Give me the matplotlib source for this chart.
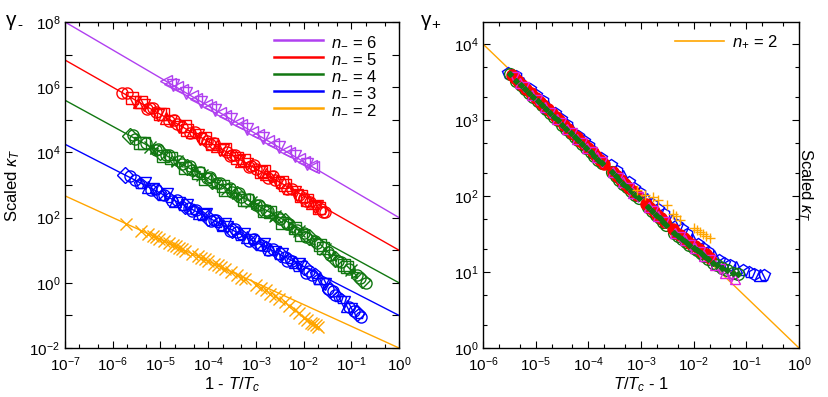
#!/usr/bin/env python3

import matplotlib
matplotlib.use("Agg")
import matplotlib.pyplot as plt
import numpy as np
from matplotlib.ticker import LogLocator, FuncFormatter, NullLocator, NullFormatter

plt.rcParams['font.family'] = ['Liberation Sans', 'DejaVu Sans']
plt.rcParams['mathtext.fontset'] = 'custom'
plt.rcParams['mathtext.rm'] = 'Liberation Sans'
plt.rcParams['mathtext.it'] = 'Liberation Sans:italic'
plt.rcParams['mathtext.bf'] = 'Liberation Sans:bold'

# --- left panel: fitted power laws  y = amp * x^(-expo) ---
n_minus = [6, 5, 4, 3, 2]
amp_minus = [1e2, 1e1, 1e0, 1e-1, 1e-2]
expo_minus = [6 / 7, 5 / 6, 4 / 5, 3 / 4, 2 / 3]
col_minus = ['#b040f0', '#ff0000', '#117711', '#0000ff', '#ffa500']
line_x_left = [1e-7, 1e0]

# left panel data
p6_x = [1.3e-5, 1.6e-5, 1.8e-5, 2.2e-5, 2.8e-5, 3.5e-5, 4.5e-5, 5.5e-5, 7e-5, 9e-5,
        1.1e-4, 1.4e-4, 1.8e-4, 2.3e-4, 3e-4, 4e-4, 5e-4, 6.5e-4, 8.5e-4, 1.1e-3,
        1.4e-3, 1.8e-3, 2.3e-3, 3e-3, 4e-3, 5e-3, 6.5e-3, 8e-3, 1e-2, 1.2e-2, 1.4e-2, 1.6e-2]
p6_y = [1.54e6, 1.29e6, 1.16e6, 9.8e5, 8.0e5, 6.6e5, 5.3e5, 4.5e5, 3.6e5, 2.9e5,
        2.5e5, 2.0e5, 1.6e5, 1.31e5, 1.05e5, 8.2e4, 6.7e4, 5.4e4, 4.3e4, 3.4e4,
        2.8e4, 2.25e4, 1.82e4, 1.45e4, 1.13e4, 9.4e3, 7.5e3, 6.3e3, 5.2e3, 4.4e3, 3.9e3, 3.5e3]

p5_x = [1.6e-6, 2.5e-6, 3.5e-6, 4.5e-6, 6e-6, 8e-6, 1e-5, 1.3e-5, 1.7e-5, 2.2e-5,
        2.8e-5, 3.6e-5, 4.6e-5, 6e-5, 7.5e-5, 9.5e-5, 1.2e-4, 1.5e-4, 2e-4, 2.5e-4,
        3.2e-4, 4e-4, 5e-4, 6.5e-4, 8e-4, 1e-3, 1.3e-3, 1.6e-3, 2e-3, 2.5e-3,
        3.2e-3, 4e-3, 5e-3, 6.5e-3, 8e-3, 1e-2, 1.2e-2, 1.5e-2, 1.9e-2, 2.3e-2, 2.8e-2]
p5_y = [6.7e5, 4.6e5, 3.5e5, 2.85e5, 2.24e5, 1.76e5, 1.46e5, 1.17e5, 9.4e4, 7.6e4,
        6.2e4, 5.0e4, 4.1e4, 3.3e4, 2.73e4, 2.24e4, 1.85e4, 1.53e4, 1.2e4, 1.0e4,
        8.1e3, 6.8e3, 5.6e3, 4.5e3, 3.8e3, 3.2e3, 2.5e3, 2.1e3, 1.77e3, 1.47e3,
        1.2e3, 9.9e2, 7.9e2, 6.2e2, 5.1e2, 4.1e2, 3.4e2, 2.8e2, 2.2e2, 1.8e2, 1.5e2]
p5b_x = [2e-6, 3e-6, 4e-6, 5.2e-6, 7e-6, 9e-6, 1.15e-5, 1.5e-5, 1.95e-5, 2.5e-5,
         3.2e-5, 4.1e-5, 5.3e-5, 6.7e-5, 8.5e-5, 1.07e-4, 1.35e-4, 1.75e-4, 2.25e-4, 2.85e-4,
         3.6e-4, 4.5e-4, 5.7e-4, 7.2e-4, 9e-4, 1.15e-3, 1.45e-3, 1.8e-3, 2.25e-3, 2.85e-3,
         3.6e-3, 4.5e-3, 5.7e-3, 7.2e-3, 9e-3, 1.1e-2, 1.35e-2, 1.7e-2, 2.1e-2, 2.5e-2]
p5b_y = [6.5e5, 3.5e5, 3.6e5, 2.2e5, 2.27e5, 1.39e5, 1.5e5, 9.1e4, 9.7e4, 5.9e4,
         6.4e4, 3.9e4, 4.2e4, 2.6e4, 2.8e4, 1.77e4, 1.93e4, 1.18e4, 1.26e4, 7.8e3,
         8.5e3, 5.4e3, 5.8e3, 3.6e3, 4.0e3, 2.45e3, 2.67e3, 1.69e3, 1.85e3, 1.15e3,
         1.2e3, 7.7e2, 7.4e2, 4.9e2, 4.6e2, 3.2e2, 3.1e2, 2.1e2, 2.0e2, 1.5e2]

p4_x = [2.3e-6, 3e-6, 4.5e-6, 6e-6, 8e-6, 1e-5, 1.3e-5, 1.7e-5, 2.2e-5, 2.8e-5,
        3.6e-5, 4.6e-5, 6e-5, 7.5e-5, 9.5e-5, 1.2e-4, 1.5e-4, 2e-4, 2.5e-4, 3.2e-4,
        4e-4, 5e-4, 6.5e-4, 8e-4, 1e-3, 1.3e-3, 1.6e-3, 2e-3, 2.5e-3, 3.2e-3,
        4e-3, 5e-3, 6.5e-3, 8e-3, 1e-2, 1.3e-2, 1.7e-2, 2.2e-2, 2.8e-2, 3.6e-2,
        4.6e-2, 6e-2, 8e-2, 0.1, 0.13, 0.17, 0.2]
p4_y = [3.2e4, 2.6e4, 1.9e4, 1.5e4, 1.2e4, 1.0e4, 8.1e3, 6.5e3, 5.3e3, 4.4e3,
        3.6e3, 2.95e3, 2.4e3, 2.0e3, 1.65e3, 1.37e3, 1.15e3, 9.1e2, 7.6e2, 6.3e2,
        5.2e2, 4.4e2, 3.5e2, 3.0e2, 2.5e2, 2.0e2, 1.7e2, 1.44e2, 1.15e2, 93,
        76, 62, 49, 40, 33, 25, 19, 14, 11, 7,
        5.5, 4.5, 3.0, 2.4, 1.7, 1.2, 1.0]
p4b_x = [2.7e-6, 3.7e-6, 5e-6, 7e-6, 9e-6, 1.15e-5, 1.5e-5, 1.95e-5, 2.5e-5, 3.2e-5,
         4.1e-5, 5.3e-5, 6.7e-5, 8.5e-5, 1.07e-4, 1.35e-4, 1.75e-4, 2.25e-4, 2.85e-4, 3.6e-4,
         4.5e-4, 5.7e-4, 7.2e-4, 9e-4, 1.15e-3, 1.45e-3, 1.8e-3, 2.25e-3, 2.85e-3, 3.6e-3,
         4.5e-3, 5.7e-3, 7.2e-3, 9e-3, 1.15e-2, 1.5e-2, 1.95e-2, 2.5e-2, 3.2e-2, 4.1e-2,
         5.3e-2, 7e-2, 9e-2, 0.115, 0.15]
p4b_y = [3.3e4, 1.93e4, 2.0e4, 1.16e4, 1.25e4, 7.8e3, 8.3e3, 5.1e3, 5.5e3, 3.4e3,
         3.7e3, 2.3e3, 2.5e3, 1.57e3, 1.73e3, 1.09e3, 1.17e3, 7.2e2, 7.9e2, 4.9e2,
         5.5e2, 3.4e2, 3.8e2, 2.4e2, 2.5e2, 1.6e2, 1.65e2, 1.05e2, 1.03e2, 68,
         64, 44, 41, 30, 25, 18.7, 16.3, 11.5, 8.6, 6.4,
         4.7, 3.4, 2.7, 1.9, 1.4]

p3_x = [1.8e-6, 3e-6, 4e-6, 5.5e-6, 7e-6, 9e-6, 1.2e-5, 1.5e-5, 2e-5, 2.5e-5,
        3.2e-5, 4e-5, 5e-5, 6.5e-5, 8e-5, 1e-4, 1.3e-4, 1.6e-4, 2e-4, 2.5e-4,
        3.2e-4, 4e-4, 5e-4, 6.5e-4, 8e-4, 1e-3, 1.3e-3, 1.6e-3, 2e-3, 2.5e-3,
        3.2e-3, 4e-3, 5e-3, 6.5e-3, 8e-3, 1e-2, 1.3e-2, 1.7e-2, 2.2e-2, 2.8e-2,
        3.6e-2, 4.6e-2, 6e-2, 8e-2, 0.1, 0.13, 0.16]
p3_y = [2.0e3, 1.4e3, 1.1e3, 8.8e2, 7.3e2, 6.1e2, 4.9e2, 4.1e2, 3.3e2, 2.8e2,
        2.35e2, 2.0e2, 1.68e2, 1.38e2, 1.18e2, 1.0e2, 82, 70, 59, 50,
        42, 35, 30, 25, 21, 18, 14.6, 12.5, 10.6, 9.0,
        7.4, 6.3, 5.3, 4.4, 3.7, 3.0, 2.3, 1.8, 1.4, 0.9,
        0.6, 0.43, 0.32, 0.2, 0.16, 0.12, 0.09]
p3b_x = [2.3e-6, 3.5e-6, 4.7e-6, 6.2e-6, 8e-6, 1.05e-5, 1.35e-5, 1.75e-5, 2.25e-5, 2.85e-5,
         3.6e-5, 4.5e-5, 5.7e-5, 7.2e-5, 9e-5, 1.15e-4, 1.45e-4, 1.8e-4, 2.25e-4, 2.85e-4,
         3.6e-4, 4.5e-4, 5.7e-4, 7.2e-4, 9e-4, 1.15e-3, 1.45e-3, 1.8e-3, 2.25e-3, 2.85e-3,
         3.6e-3, 4.5e-3, 5.7e-3, 7.2e-3, 9e-3, 1.15e-2, 1.5e-2, 1.95e-2, 2.5e-2, 3.2e-2,
         4.1e-2, 5.3e-2, 7e-2, 9e-2, 0.115, 0.145]
p3b_y = [1.95e3, 1.08e3, 1.14e3, 7.0e2, 7.6e2, 4.7e2, 5.2e2, 3.2e2, 3.5e2, 2.23e2,
         2.47e2, 1.58e2, 1.75e2, 1.11e2, 1.25e2, 78, 87, 56, 62.6, 39.7,
         44, 28.2, 31.2, 19.8, 22.2, 13.9, 15.5, 10, 11.1, 7.0,
         7.5, 4.6, 4.8, 3.0, 3.1, 2.0, 1.75, 1.25, 0.95, 0.66,
         0.55, 0.36, 0.26, 0.18, 0.14, 0.11]

p2_x = [1.9e-6, 4e-6, 5.5e-6, 7e-6, 8e-6, 9.5e-6, 1.2e-5, 1.5e-5, 1.8e-5, 2.1e-5,
        2.4e-5, 2.8e-5, 3.3e-5, 4.5e-5, 6e-5, 7e-5, 8.5e-5, 1e-4, 1.3e-4, 1.6e-4,
        1.9e-4, 2.3e-4, 3e-4, 4e-4, 5e-4, 6e-4, 1e-3, 1.3e-3, 1.6e-3, 2e-3,
        2.5e-3, 3e-3, 4e-3, 5e-3, 6.5e-3, 8e-3, 1e-2, 1.2e-2, 1.4e-2, 1.6e-2, 1.8e-2, 2e-2]
p2_y = [65, 40, 32, 27, 25, 22, 19, 16.3, 14.6, 13.1,
        12, 10.8, 9.7, 7.9, 6.5, 5.9, 5.2, 4.6, 3.9, 3.4,
        3.0, 2.7, 2.1, 1.7, 1.45, 1.27, 0.85, 0.7, 0.6, 0.45,
        0.38, 0.32, 0.25, 0.2, 0.15, 0.12, 0.085, 0.07, 0.06, 0.055, 0.05, 0.045]

left_sets = [
    (p6_x, p6_y, '#b040f0', ['<', '<', 'v']),
    (p5_x, p5_y, '#ff0000', ['o', 's', '^', 'v', 'o']),
    (p5b_x, p5b_y, '#ff0000', ['o', 'v', 's', 'o']),
    (p4_x, p4_y, '#117711', ['D', 'o', 's', 'x', 'o']),
    (p4b_x, p4b_y, '#117711', ['o', 's', 'o', '*']),
    (p3_x, p3_y, '#0000ff', ['D', 'o', 'p', '^', 'v']),
    (p3b_x, p3b_y, '#0000ff', ['o', 'p', 'v', 'o']),
    (p2_x, p2_y, '#ffa500', ['x']),
]

# --- right panel ---
amp_plus = 1.0
expo_plus = 2 / 3
line_x_right = [1e-6, 1e0]

r_red_x = [3.5e-6, 4e-6, 4.7e-6, 5.6e-6, 6.6e-6, 8e-6, 1e-5, 1.2e-5, 1.4e-5, 1.7e-5,
           2e-5, 2.4e-5, 2.8e-5, 3.5e-5, 4.2e-5, 5e-5, 6e-5, 7e-5, 8.3e-5, 1e-4,
           1.2e-4, 1.4e-4, 1.7e-4, 2e-4, 3e-4, 3.5e-4, 4.2e-4, 5e-4, 6e-4, 7e-4,
           8.3e-4, 1.25e-3, 1.5e-3, 1.75e-3, 2.05e-3, 2.4e-3, 2.8e-3, 4e-3, 4.7e-3, 5.5e-3,
           6.5e-3, 7.6e-3, 9e-3, 1.05e-2, 1.25e-2, 1.45e-2, 1.7e-2, 2e-2]
r_red_y = [3950, 3620, 3250, 2890, 2590, 2280, 1960, 1740, 1570, 1380,
           1240, 1100, 990, 850, 755, 670, 595, 537, 480, 424,
           375, 338, 297, 267, 204, 184, 163, 145, 128, 116,
           103, 79, 70, 63, 56.5, 51, 46, 37, 33, 30.7,
           28, 25.9, 23.7, 21.8, 19.9, 18.5, 17, 15.5]

r_green_x = [3.2e-6, 4.3e-6, 5.2e-6, 6.2e-6, 7.4e-6, 9e-6, 1.1e-5, 1.3e-5, 1.55e-5, 1.85e-5,
             2.2e-5, 2.6e-5, 3.2e-5, 3.8e-5, 4.6e-5, 5.5e-5, 6.5e-5, 7.7e-5, 9e-5, 1.1e-4,
             1.3e-4, 1.55e-4, 1.85e-4, 2.8e-4, 3.3e-4, 3.9e-4, 4.6e-4, 5.5e-4, 6.5e-4, 7.7e-4,
             9e-4, 1.35e-3, 1.6e-3, 1.9e-3, 2.25e-3, 2.6e-3, 3e-3, 4.3e-3, 5e-3, 6e-3,
             7e-3, 8.3e-3, 1e-2, 1.15e-2, 1.35e-2, 1.6e-2, 1.9e-2, 2.3e-2, 2.8e-2, 3.5e-2,
             4.3e-2, 5.5e-2, 7e-2]
r_green_y = [4010, 3300, 2900, 2580, 2300, 2010, 1760, 1570, 1400, 1245,
             1110, 993, 865, 771, 678, 603, 538, 481, 434, 379,
             340, 302, 268, 204, 182, 163, 146, 130, 116, 104,
             93.5, 71.3, 63.7, 56.8, 50.7, 46, 41.9, 33, 29.8, 27,
             24.9, 22.8, 20.6, 19.2, 17.7, 16.1, 14.7, 13.2, 12.2, 11.2,
             10.5, 9.8, 9.3]

r_mag_x = [3.8e-6, 5e-6, 6e-6, 8.5e-6, 1.05e-5, 1.5e-5, 1.9e-5, 2.5e-5, 3e-5, 4e-5,
           4.8e-5, 6.2e-5, 7.5e-5, 9.5e-5, 1.15e-4, 1.45e-4, 1.8e-4, 2.9e-4, 3.7e-4, 4.5e-4,
           5.8e-4, 7.2e-4, 8.8e-4, 1.4e-3, 1.7e-3, 2.1e-3, 2.7e-3, 4.5e-3, 5.6e-3, 6.8e-3,
           8.5e-3, 1.05e-2, 1.3e-2, 1.6e-2, 2e-2, 2.5e-2, 3.1e-2, 3.9e-2, 4.8e-2, 6e-2]
r_mag_y = [3660, 3050, 2700, 2140, 1860, 1470, 1250, 1040, 923, 762,
           675, 569, 501, 428, 377, 323, 280, 204, 173, 152,
           128, 111, 97, 71.3, 62.7, 54.3, 45.9, 32.7, 28.9, 26,
           23, 20.4, 18.1, 16.1, 14.2, 12.5, 11.1, 9.8, 8.9, 8.2]

r_blue_x = [3e-6, 4.2e-6, 5.8e-6, 7.8e-6, 1e-5, 1.35e-5, 1.75e-5, 2.3e-5, 3e-5, 3.9e-5,
            5e-5, 6.5e-5, 8.3e-5, 1.05e-4, 1.35e-4, 1.75e-4, 2.7e-4, 3.5e-4, 4.5e-4, 5.8e-4,
            7.5e-4, 9.5e-4, 1.3e-3, 1.65e-3, 2.1e-3, 2.7e-3, 3.9e-3, 4.8e-3, 6e-3, 7.5e-3,
            9.5e-3, 1.2e-2, 1.5e-2, 1.9e-2, 2.4e-2, 3e-2, 3.8e-2, 5e-2, 6.5e-2, 8.5e-2,
            0.11, 0.14, 0.18, 0.22]
r_blue_y = [4200, 3850, 3100, 2540, 2150, 1770, 1480, 1240, 1040, 870,
            736, 618, 526, 450, 380, 320, 257, 214, 182, 155,
            129, 110, 91, 79, 68, 57.5, 47.9, 41.7, 36.3, 31.6,
            26.9, 23.4, 20.4, 18.2, 16.2, 14.5, 13.2, 12.3, 11.5, 10.7,
            10, 9.5, 9.1, 9.1]

r_orange_x = [8.5e-4, 1.2e-3, 1.7e-3, 2.1e-3, 3.1e-3, 4e-3, 4.6e-3, 5.5e-3, 1e-2, 1.15e-2,
              1.3e-2, 1.5e-2, 1.7e-2, 2e-2]
r_orange_y = [120, 102, 98, 88, 76, 58, 54, 48, 38, 36,
              34, 32, 30, 28]

# (x, y, colour, markers, size, filled)
right_sets = [
    (r_blue_x, r_blue_y, '#0000ff', ['p', 'h', '^', 'p'], 8.5, False),
    (r_green_x, r_green_y, '#117711', ['o'], 8.5, False),
    (r_red_x, r_red_y, '#ff0000', ['o'], 8, True),
    (r_mag_x, r_mag_y, '#e020e0', ['v', '^'], 6.5, False),
    (r_green_x, r_green_y, '#117711', ['D'], 3, True),
    (r_orange_x, r_orange_y, '#ffa500', ['+'], 7, False),
]


def scatter_set(ax, xs, ys, color, markers, ms=8, filled=False):
    for i in range(len(xs)):
        m = markers[i % len(markers)]
        ax.plot(xs[i], ys[i], marker=m, linestyle='none', markersize=ms,
                markerfacecolor=color if filled else 'none', markeredgecolor=color,
                markeredgewidth=1.0, zorder=3)


def pow_formatter(only_even):
    def f(v, pos):
        e = int(round(np.log10(v)))
        if only_even and e % 2:
            return ''
        return r'$\mathregular{10^{%d}}$' % e
    return FuncFormatter(f)


fig = plt.figure(figsize=(8.29, 3.97), dpi=100)
ax1 = fig.add_axes([65 / 829, 1 - 348 / 397, 334 / 829, 326 / 397])
ax2 = fig.add_axes([483 / 829, 1 - 348 / 397, 316 / 829, 326 / 397])

# left
xx = np.array(line_x_left)
for n, a, g, c in zip(n_minus, amp_minus, expo_minus, col_minus):
    ax1.plot(xx, a * xx ** (-g), color=c, lw=1.0, label=r'$n_{-}$ = %d' % n, zorder=2)
for xs, ys, c, mk in left_sets:
    scatter_set(ax1, xs, ys, c, mk, ms=8)

ax1.set_xscale('log')
ax1.set_yscale('log')
ax1.set_xlim(1e-7, 1e0)
ax1.set_ylim(1e-2, 1e8)
ax1.xaxis.set_major_locator(LogLocator(base=10, numticks=20))
ax1.xaxis.set_minor_locator(LogLocator(base=10, subs=(2.0, 5.0), numticks=20))
ax1.xaxis.set_major_formatter(pow_formatter(False))
ax1.xaxis.set_minor_formatter(NullFormatter())
ax1.yaxis.set_major_locator(LogLocator(base=10, numticks=20))
ax1.yaxis.set_minor_locator(NullLocator())
ax1.yaxis.set_major_formatter(pow_formatter(True))
ax1.set_xlabel(r'1 - $T/T_c$', fontsize=12, labelpad=1)
ax1.set_ylabel(r'Scaled $\kappa_T$', fontsize=12)
ax1.yaxis.set_label_coords(-0.128, 0.5)
leg = ax1.legend(loc='upper right', bbox_to_anchor=(0.97, 1.0), frameon=False, fontsize=12,
                 handlelength=2.9, handletextpad=0.5, labelspacing=0.12, borderaxespad=0.3)
for h in leg.get_lines():
    h.set_linewidth(1.8)

# right
xx = np.array(line_x_right)
ax2.plot(xx, amp_plus * xx ** (-expo_plus), color='#ffa500', lw=1.0, label=r'$n_{+}$ = 2', zorder=2)
for xs, ys, c, mk, ms, fl in right_sets:
    scatter_set(ax2, xs, ys, c, mk, ms=ms, filled=fl)

ax2.set_xscale('log')
ax2.set_yscale('log')
ax2.set_xlim(1e-6, 1e0)
ax2.set_ylim(1e0, 1.95e4)
ax2.xaxis.set_major_locator(LogLocator(base=10, numticks=20))
ax2.xaxis.set_minor_locator(LogLocator(base=10, subs=(2.0, 5.0), numticks=20))
ax2.xaxis.set_major_formatter(pow_formatter(False))
ax2.xaxis.set_minor_formatter(NullFormatter())
ax2.yaxis.set_major_locator(LogLocator(base=10, numticks=20))
ax2.yaxis.set_minor_locator(LogLocator(base=10, subs=(2.0, 5.0), numticks=20))
ax2.yaxis.set_major_formatter(pow_formatter(False))
ax2.yaxis.set_minor_formatter(NullFormatter())
ax2.set_xlabel(r'$T/T_c$ - 1', fontsize=12, labelpad=1)
ax2.set_ylabel(r'Scaled $\kappa_T$', fontsize=12, rotation=-90)
ax2.yaxis.set_label_position('right')
ax2.yaxis.set_label_coords(1.05, 0.5)
leg2 = ax2.legend(loc='upper right', bbox_to_anchor=(0.97, 1.0), frameon=False, fontsize=12,
                  handlelength=2.9, handletextpad=0.5, borderaxespad=0.3)
for h in leg2.get_lines():
    h.set_linewidth(1.2)

for ax in (ax1, ax2):
    ax.tick_params(which='both', direction='in', top=True, right=True, labelsize=11)
    ax.tick_params(which='major', length=5, width=0.8)
    ax.tick_params(which='minor', length=3, width=0.8)
    ax.tick_params(axis='x', pad=5)
    for s in ax.spines.values():
        s.set_linewidth(1.0)

# gamma labels
fig.text(6 / 829, 1 - 20 / 397, 'γ', fontsize=15, va='center', ha='left')
fig.text(17 / 829, 1 - 25 / 397, '-', fontsize=11, va='center', ha='left')
fig.text(421 / 829, 1 - 20 / 397, 'γ', fontsize=15, va='center', ha='left')
fig.text(431 / 829, 1 - 25 / 397, '+', fontsize=11, va='center', ha='left')

fig.savefig('out.png', dpi=100)
